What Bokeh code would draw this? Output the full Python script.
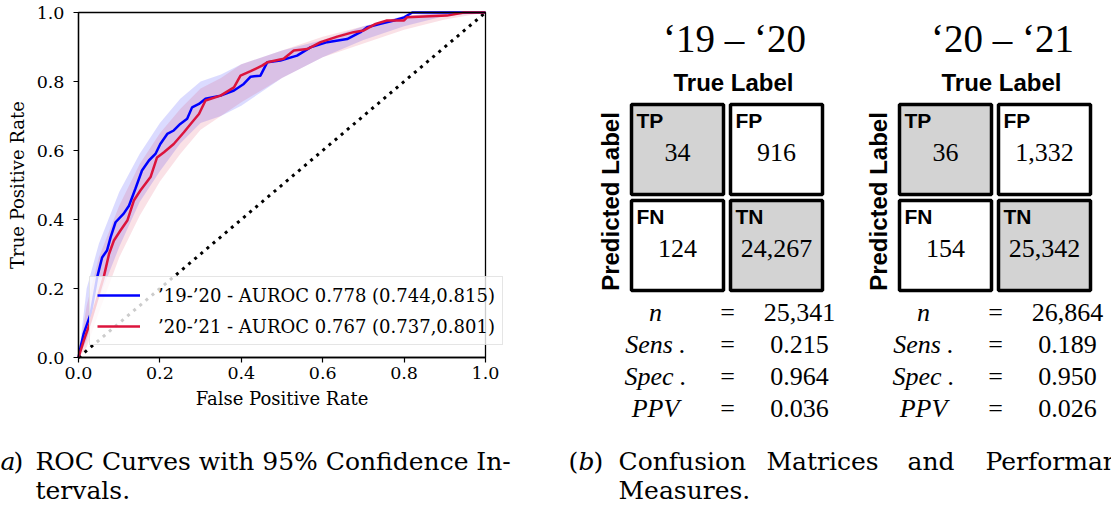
import numpy as np
from bokeh.plotting import figure
from bokeh.models import (Range1d, Legend, LegendItem, FixedTicker, PrintfTickFormatter,
                          LinearAxis)
from bokeh.embed import file_html
from bokeh.resources import INLINE
from bokeh.core.properties import value

# ---------------- data ----------------
fpr_19 = [0.0, 0.005, 0.013, 0.03, 0.046, 0.058, 0.07, 0.079, 0.091, 0.111, 0.124, 0.14, 0.156,
          0.173, 0.189, 0.201, 0.218, 0.234, 0.25, 0.267, 0.279, 0.296, 0.312, 0.349, 0.382,
          0.406, 0.423, 0.447, 0.464, 0.496, 0.537, 0.57, 0.611, 0.66, 0.693, 0.709, 0.742,
          0.775, 0.8, 0.82, 1.0]
tpr_19 = [0.0, 0.03, 0.07, 0.127, 0.233, 0.29, 0.31, 0.349, 0.392, 0.417, 0.44, 0.49, 0.542,
          0.571, 0.59, 0.619, 0.648, 0.658, 0.677, 0.692, 0.725, 0.735, 0.75, 0.759, 0.774,
          0.793, 0.814, 0.817, 0.856, 0.861, 0.875, 0.899, 0.914, 0.923, 0.943, 0.957, 0.967,
          0.977, 0.986, 1.0, 1.0]
fpr_20 = [0.0, 0.013, 0.03, 0.05, 0.062, 0.075, 0.087, 0.103, 0.12, 0.136, 0.152, 0.177, 0.193,
          0.21, 0.234, 0.259, 0.279, 0.296, 0.312, 0.349, 0.382, 0.398, 0.423, 0.451, 0.464,
          0.504, 0.529, 0.562, 0.595, 0.636, 0.676, 0.701, 0.73, 0.758, 0.8, 0.807, 0.905,
          0.947, 1.0]
tpr_20 = [0.0, 0.049, 0.107, 0.185, 0.233, 0.30, 0.339, 0.368, 0.397, 0.455, 0.484, 0.523, 0.58,
          0.595, 0.619, 0.653, 0.682, 0.706, 0.745, 0.759, 0.783, 0.817, 0.83, 0.846, 0.856,
          0.866, 0.89, 0.894, 0.914, 0.93, 0.943, 0.948, 0.967, 0.977, 0.977, 0.986, 0.991,
          1.0, 1.0]
band_fpr = [0.0, 0.02, 0.05, 0.1, 0.15, 0.2, 0.25, 0.3, 0.35, 0.4, 0.5, 0.6, 0.7, 0.8, 0.9, 1.0]
hi_19 = [0.0, 0.20, 0.33, 0.48, 0.59, 0.68, 0.75, 0.80, 0.82, 0.85, 0.89, 0.92, 0.96, 0.99, 1.0, 1.0]
lo_19 = [0.0, 0.05, 0.17, 0.32, 0.45, 0.54, 0.62, 0.68, 0.70, 0.73, 0.81, 0.87, 0.92, 0.96, 0.99, 1.0]
hi_20 = [0.0, 0.15, 0.29, 0.44, 0.56, 0.65, 0.72, 0.78, 0.81, 0.85, 0.89, 0.93, 0.96, 0.99, 1.0, 1.0]
lo_20 = [0.0, 0.03, 0.13, 0.29, 0.41, 0.51, 0.59, 0.66, 0.70, 0.74, 0.81, 0.87, 0.91, 0.95, 0.98, 1.0]
chance = [0.0, 1.0]
roc_ticks = [0.0, 0.2, 0.4, 0.6, 0.8, 1.0]

legend_19 = "\u201919-\u201920 - AUROC 0.778 (0.744,0.815)"
legend_20 = "\u201920-\u201921 - AUROC 0.767 (0.737,0.801)"

periods = ["\u201819 \u2013 \u201820", "\u201820 \u2013 \u201821"]
cell_names = ["TP", "FP", "FN", "TN"]
cm_19 = ["34", "916", "124", "24,267"]
cm_20 = ["36", "1,332", "154", "25,342"]
metric_names = ["n", "Sens .", "Spec .", "PPV"]
metrics_19 = ["25,341", "0.215", "0.964", "0.036"]
metrics_20 = ["26,864", "0.189", "0.950", "0.026"]

caption_a = ["ROC Curves with 95% Confidence In-", "tervals."]
caption_b = ["Confusion", "Matrices", "and", "Performance", "Measures."]

# ---------------- page layout (pixels) ----------------
W, H = 1111, 514
FL, FR, FT, FB = 78, 485, 12, 357          # ROC axes box

TIMES = value("Liberation Serif")
SANS = value("Liberation Sans")
CM = value("DejaVu Serif")

p = figure(width=W, height=H, x_range=Range1d(0, W), y_range=Range1d(H, 0),
           min_border=0, output_backend="svg", toolbar_location=None,
           x_axis_type=None, y_axis_type=None)
p.outline_line_color = None
p.grid.visible = False

# ROC scales: unit square mapped onto the axes box
sx = (FR - FL)
sy = (FB - FT)
p.extra_x_ranges = {"rx": Range1d(-FL / sx, (W - FL) / sx)}
p.extra_y_ranges = {"ry": Range1d(-(H - FB) / sy, 1 + FT / sy)}
R = dict(x_range_name="rx", y_range_name="ry")

p.varea(x=band_fpr, y1=lo_19, y2=hi_19, fill_color="blue", fill_alpha=0.14, **R)
p.varea(x=band_fpr, y1=lo_20, y2=hi_20, fill_color="crimson", fill_alpha=0.13, **R)
p.line(chance, chance, line_color="black", line_width=3, line_dash="3 5", **R)
r19 = p.line(fpr_19, tpr_19, line_color="blue", line_width=2.5, **R)
r20 = p.line(fpr_20, tpr_20, line_color="crimson", line_width=2.5, **R)
p.quad(left=[roc_ticks[0]], right=[roc_ticks[-1]], bottom=[roc_ticks[0]], top=[roc_ticks[-1]],
       fill_color=None, line_color="black", line_width=1.3, **R)

for side, label, standoff in (("below", "False Positive Rate", 4), ("left", "True Positive Rate", 9)):
    ax = LinearAxis(x_range_name="rx", y_range_name="ry", fixed_location=0,
                    bounds=(0, 1), ticker=FixedTicker(ticks=roc_ticks),
                    formatter=PrintfTickFormatter(format="%.1f"), axis_label=label)
    ax.minor_tick_line_color = None
    ax.major_tick_in = 0
    ax.major_tick_out = 5
    ax.major_tick_line_width = 1.2
    ax.axis_line_width = 1.3
    ax.major_label_text_font = "DejaVu Serif"
    ax.major_label_text_font_size = "17.5px"
    ax.major_label_text_color = "black"
    ax.major_label_standoff = standoff
    ax.axis_label_text_font = "DejaVu Serif"
    ax.axis_label_text_font_size = "18px"
    ax.axis_label_text_font_style = "normal"
    ax.axis_label_text_color = "black"
    ax.axis_label_standoff = 6
    p.add_layout(ax, side)

legend = Legend(items=[LegendItem(label=legend_19, renderers=[r19]),
                       LegendItem(label=legend_20, renderers=[r20])],
                location=(89, H - 345), glyph_width=43, glyph_height=22, label_height=22,
                label_standoff=18, spacing=9, padding=7, margin=0,
                label_text_font="DejaVu Serif", label_text_font_size="18px",
                label_text_color="black",
                border_line_color="#cccccc", border_line_width=1.3,
                background_fill_alpha=0.8)
p.add_layout(legend)

# ---------------- (b) confusion matrices ----------------
origins = [630, 898]          # left edge of each matrix
top = 103
cw, ch, stx, sty = 92, 90, 99, 96

for k, (period, cm, mets) in enumerate(zip(periods, [cm_19, cm_20], [metrics_19, metrics_20])):
    x0 = origins[k]
    cx = [x0 + (i % 2) * stx + cw / 2 + 1 for i in range(4)]
    cy = [top + (i // 2) * sty + ch / 2 + 1 for i in range(4)]
    fills = ["#d3d3d3" if i in (0, 3) else "white" for i in range(4)]
    p.rect(x=cx, y=cy, width=cw, height=ch, fill_color=fills, line_color="black",
           line_width=3.5)
    p.text(x=[c - cw / 2 + 5 for c in cx], y=[c - ch / 2 + 16 for c in cy], text=cell_names,
           text_font=SANS, text_font_style="bold", text_font_size=value("21px"),
           text_align="left", text_baseline="middle", text_color="black")
    p.text(x=cx, y=[c + 3 for c in cy], text=cm, text_font=TIMES,
           text_font_size=value("26px"), text_align="center", text_baseline="middle",
           text_color="black")
    mid = x0 + stx + 1
    p.text(x=[mid + 4], y=[38], text=[period], text_font=TIMES, text_font_size=value("39px"),
           text_align="center", text_baseline="middle", text_color="black")
    p.text(x=[mid + 3], y=[82], text=["True Label"], text_font=SANS, text_font_style="bold",
           text_font_size=value("24px"), text_align="center", text_baseline="middle",
           text_color="black")
    p.text(x=[x0 - 20], y=[top + sty + 2], text=["Predicted Label"], text_font=SANS,
           text_font_style="bold", text_font_size=value("24px"), text_align="center",
           text_baseline="middle", angle=np.pi / 2, text_color="black")
    bottom = top + sty + ch + 2
    ry = [bottom + 21 + 32 * i for i in range(4)]
    p.text(x=[x0 + 25] * 4, y=ry, text=metric_names, text_font=TIMES,
           text_font_style="italic", text_font_size=value("26px"), text_align="center",
           text_baseline="middle", text_color="black")
    p.text(x=[x0 + 97] * 4, y=ry, text=["="] * 4, text_font=TIMES,
           text_font_size=value("26px"), text_align="center", text_baseline="middle",
           text_color="black")
    p.text(x=[x0 + 169] * 4, y=ry, text=mets, text_font=TIMES,
           text_font_size=value("26px"), text_align="center", text_baseline="middle",
           text_color="black")

# ---------------- captions ----------------
cap_kw = dict(text_font=CM, text_font_size=value("25px"), text_align="left",
              text_baseline="middle", text_color="black")
L1, L2 = 461, 490
p.text(x=[-10, 13, 35, 35], y=[L1, L1, L1, L2],
       text=["(", ")", caption_a[0], caption_a[1]], **cap_kw)
p.text(x=[0], y=[L1], text=["a"], text_font_style="italic", **cap_kw)
p.text(x=[568, 593, 618, 766, 907, 985, 618], y=[L1] * 6 + [L2],
       text=["(", ")"] + caption_b, **cap_kw)
p.text(x=[578], y=[L1], text=["b"], text_font_style="italic", **cap_kw)

open("out.html", "w").write(file_html(p, INLINE))
